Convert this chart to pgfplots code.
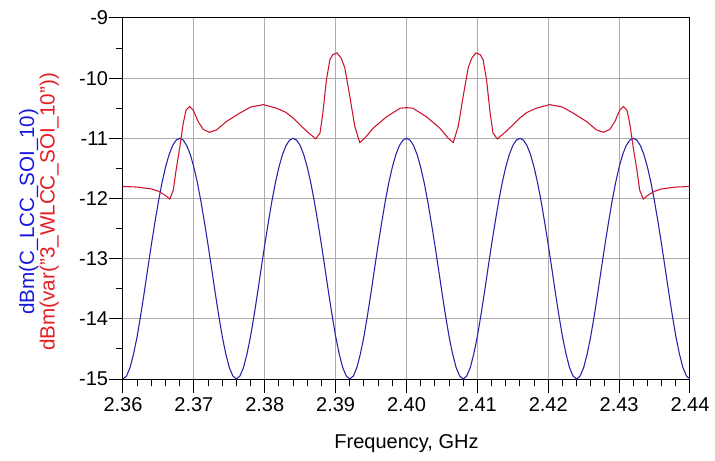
\documentclass[border=0pt]{standalone}
\usepackage{fontspec}
\setmainfont{Liberation Sans}
\usepackage{pgfplots}
\pgfplotsset{compat=1.18}
\definecolor{adsblue}{RGB}{35,35,170}
\definecolor{adsred}{RGB}{205,20,45}
\definecolor{labblue}{RGB}{25,25,220}
\definecolor{labred}{RGB}{230,30,35}
\definecolor{gridgray}{RGB}{172,172,172}
\begin{document}
\begin{tikzpicture}
\path[use as bounding box] (-92.25pt,-61.5pt) rectangle (444pt,284.25pt);
\begin{axis}[
  at={(0,0)}, anchor=south west,
  scale only axis, width=425.25pt, height=270.75pt,
  xmin=2.36, xmax=2.44, ymin=-15, ymax=-9,
  xtick={2.36,2.37,2.38,2.39,2.40,2.41,2.42,2.43,2.44},
  xticklabels={2.36,2.37,2.38,2.39,2.40,2.41,2.42,2.43,2.44},
  ytick={-15,-14,-13,-12,-11,-10,-9},
  yticklabels={-15,-14,-13,-12,-11,-10,-9},
  minor x tick num=4, minor y tick num=1,
  xtick pos=bottom, ytick pos=left,
  tick align=outside,
  major tick length=10.5pt, minor tick length=5.5pt,
  grid=major,
  major grid style={gridgray, line width=0.75pt},
  axis line style={black, line width=0.75pt},
  tick style={black, line width=0.75pt},
  ticklabel style={font=\fontsize{15}{18}\selectfont},
  yticklabel style={inner xsep=0.5pt},
  xlabel={Frequency, GHz},
  xlabel style={font=\fontsize{15}{18}\selectfont, at={(axis description cs:0.5,-0.192)}, anchor=base},
  ylabel={{\color{labblue}dBm(C\_LCC\_SOI\_10)}\\{\color{labred}dBm(var("3\_WLCC\_SOI\_10"))}},
  ylabel style={font=\fontsize{15.5}{12.5}\selectfont, align=center, at={(axis description cs:-0.148,0.463)}, anchor=center},
]
\addplot[adsblue, line width=0.8pt] table {
2.3600 -15.00
2.3605 -14.95
2.3610 -14.81
2.3615 -14.58
2.3620 -14.29
2.3625 -13.94
2.3630 -13.56
2.3635 -13.16
2.3640 -12.77
2.3645 -12.40
2.3650 -12.05
2.3655 -11.74
2.3660 -11.48
2.3665 -11.27
2.3670 -11.12
2.3675 -11.03
2.3680 -11.00
2.3685 -11.03
2.3690 -11.12
2.3695 -11.27
2.3700 -11.48
2.3705 -11.74
2.3710 -12.05
2.3715 -12.40
2.3720 -12.77
2.3725 -13.16
2.3730 -13.56
2.3735 -13.94
2.3740 -14.29
2.3745 -14.58
2.3750 -14.81
2.3755 -14.95
2.3760 -15.00
2.3765 -14.95
2.3770 -14.81
2.3775 -14.58
2.3780 -14.29
2.3785 -13.94
2.3790 -13.56
2.3795 -13.16
2.3800 -12.77
2.3805 -12.40
2.3810 -12.05
2.3815 -11.74
2.3820 -11.48
2.3825 -11.27
2.3830 -11.12
2.3835 -11.03
2.3840 -11.00
2.3845 -11.03
2.3850 -11.12
2.3855 -11.27
2.3860 -11.48
2.3865 -11.74
2.3870 -12.05
2.3875 -12.40
2.3880 -12.77
2.3885 -13.16
2.3890 -13.56
2.3895 -13.94
2.3900 -14.29
2.3905 -14.58
2.3910 -14.81
2.3915 -14.95
2.3920 -15.00
2.3925 -14.95
2.3930 -14.81
2.3935 -14.58
2.3940 -14.29
2.3945 -13.94
2.3950 -13.56
2.3955 -13.16
2.3960 -12.77
2.3965 -12.40
2.3970 -12.05
2.3975 -11.74
2.3980 -11.48
2.3985 -11.27
2.3990 -11.12
2.3995 -11.03
2.4000 -11.00
2.4005 -11.03
2.4010 -11.12
2.4015 -11.27
2.4020 -11.48
2.4025 -11.74
2.4030 -12.05
2.4035 -12.40
2.4040 -12.77
2.4045 -13.16
2.4050 -13.56
2.4055 -13.94
2.4060 -14.29
2.4065 -14.58
2.4070 -14.81
2.4075 -14.95
2.4080 -15.00
2.4085 -14.95
2.4090 -14.81
2.4095 -14.58
2.4100 -14.29
2.4105 -13.94
2.4110 -13.56
2.4115 -13.16
2.4120 -12.77
2.4125 -12.40
2.4130 -12.05
2.4135 -11.74
2.4140 -11.48
2.4145 -11.27
2.4150 -11.12
2.4155 -11.03
2.4160 -11.00
2.4165 -11.03
2.4170 -11.12
2.4175 -11.27
2.4180 -11.48
2.4185 -11.74
2.4190 -12.05
2.4195 -12.40
2.4200 -12.77
2.4205 -13.16
2.4210 -13.56
2.4215 -13.94
2.4220 -14.29
2.4225 -14.58
2.4230 -14.81
2.4235 -14.95
2.4240 -15.00
2.4245 -14.95
2.4250 -14.81
2.4255 -14.58
2.4260 -14.29
2.4265 -13.94
2.4270 -13.56
2.4275 -13.16
2.4280 -12.77
2.4285 -12.40
2.4290 -12.05
2.4295 -11.74
2.4300 -11.48
2.4305 -11.27
2.4310 -11.12
2.4315 -11.03
2.4320 -11.00
2.4325 -11.03
2.4330 -11.12
2.4335 -11.27
2.4340 -11.48
2.4345 -11.74
2.4350 -12.05
2.4355 -12.40
2.4360 -12.77
2.4365 -13.16
2.4370 -13.56
2.4375 -13.94
2.4380 -14.29
2.4385 -14.58
2.4390 -14.81
2.4395 -14.95
2.4400 -15.00
};
\addplot[adsred, line width=0.8pt] table {
2.3600 -11.80
2.3620 -11.81
2.3640 -11.84
2.3650 -11.88
2.3656 -11.92
2.3661 -11.96
2.3666 -12.01
2.3671 -11.86
2.3675 -11.52
2.3680 -11.16
2.3685 -10.75
2.3689 -10.53
2.3694 -10.47
2.3699 -10.53
2.3706 -10.72
2.3713 -10.85
2.3722 -10.90
2.3732 -10.86
2.3746 -10.72
2.3765 -10.58
2.3780 -10.48
2.3798 -10.44
2.3817 -10.50
2.3830 -10.57
2.3840 -10.66
2.3850 -10.78
2.3859 -10.88
2.3866 -10.95
2.3872 -11.01
2.3878 -10.91
2.3882 -10.58
2.3887 -10.03
2.3892 -9.69
2.3896 -9.61
2.3902 -9.58
2.3908 -9.67
2.3913 -9.83
2.3920 -10.30
2.3927 -10.80
2.3934 -11.07
2.3941 -11.00
2.3953 -10.83
2.3972 -10.64
2.3991 -10.50
2.4000 -10.49
2.4009 -10.50
2.4028 -10.64
2.4047 -10.83
2.4059 -11.00
2.4066 -11.07
2.4073 -10.80
2.4080 -10.30
2.4087 -9.83
2.4092 -9.67
2.4098 -9.58
2.4104 -9.61
2.4108 -9.69
2.4113 -10.03
2.4118 -10.58
2.4122 -10.91
2.4128 -11.01
2.4134 -10.95
2.4141 -10.88
2.4150 -10.78
2.4160 -10.66
2.4170 -10.57
2.4183 -10.50
2.4202 -10.44
2.4220 -10.48
2.4235 -10.58
2.4254 -10.72
2.4268 -10.86
2.4278 -10.90
2.4287 -10.85
2.4294 -10.72
2.4301 -10.53
2.4306 -10.47
2.4311 -10.53
2.4315 -10.75
2.4320 -11.16
2.4325 -11.52
2.4329 -11.86
2.4334 -12.01
2.4339 -11.96
2.4344 -11.92
2.4350 -11.88
2.4360 -11.84
2.4380 -11.81
2.4400 -11.80
};
\end{axis}
\end{tikzpicture}
\end{document}
